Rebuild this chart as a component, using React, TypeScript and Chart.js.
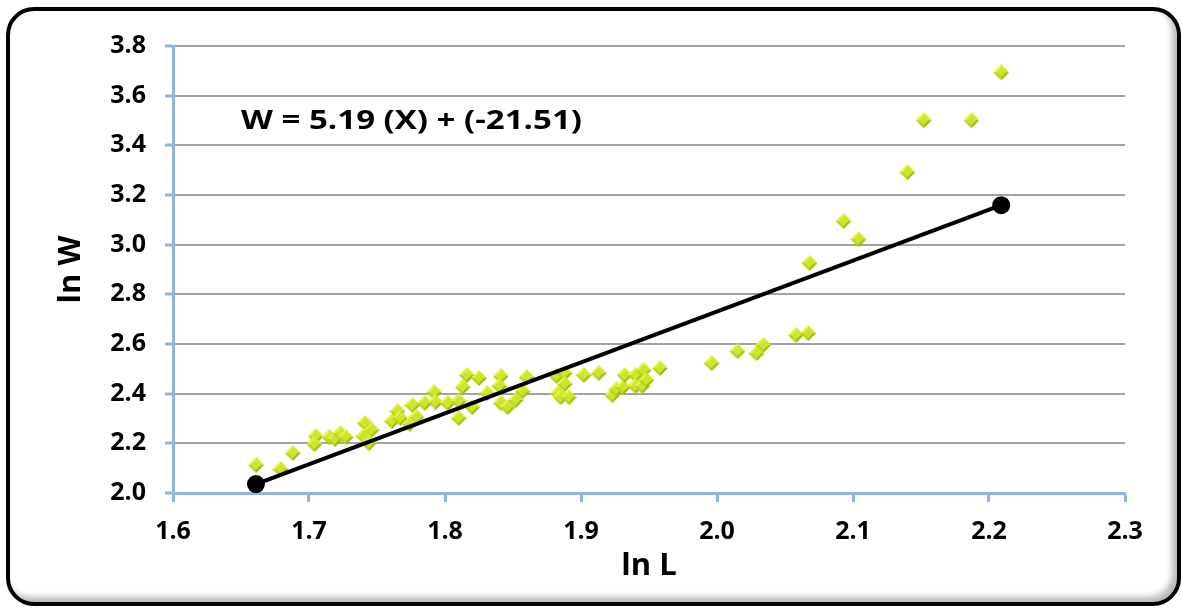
import { useEffect, useRef } from "react";
import { Chart, registerables } from "chart.js";

Chart.register(...registerables);

// Observed length/weight pairs (natural logs)
const lnL: number[] = [
  1.661, 1.679, 1.688, 1.705, 1.704, 1.715, 1.719, 1.723, 1.727, 1.741,
  1.746, 1.740, 1.744, 1.761, 1.765, 1.767, 1.776, 1.779, 1.774, 1.785,
  1.792, 1.793, 1.802, 1.810, 1.810, 1.813, 1.816, 1.825, 1.820, 1.831,
  1.841, 1.840, 1.841, 1.846, 1.852, 1.857, 1.860, 1.882, 1.888, 1.888,
  1.883, 1.885, 1.891, 1.902, 1.913, 1.923, 1.926, 1.931, 1.932, 1.940,
  1.946, 1.940, 1.945, 1.948, 1.958, 1.996, 2.015, 2.029, 2.034, 2.058,
  2.067, 2.068, 2.093, 2.104, 2.140, 2.152, 2.187, 2.209,
];
const lnW: number[] = [
  2.113, 2.097, 2.161, 2.229, 2.197, 2.225, 2.217, 2.241, 2.225, 2.282,
  2.254, 2.229, 2.201, 2.290, 2.330, 2.302, 2.354, 2.306, 2.278, 2.362,
  2.406, 2.366, 2.362, 2.370, 2.302, 2.427, 2.475, 2.463, 2.346, 2.402,
  2.471, 2.431, 2.362, 2.346, 2.374, 2.410, 2.467, 2.471, 2.483, 2.439,
  2.402, 2.386, 2.386, 2.475, 2.483, 2.394, 2.418, 2.427, 2.475, 2.475,
  2.495, 2.431, 2.431, 2.455, 2.503, 2.523, 2.571, 2.563, 2.596, 2.636,
  2.644, 2.926, 3.095, 3.022, 3.292, 3.501, 3.501, 3.694,
];

// Fitted line end points
const fitL: number[] = [1.661, 2.209];
const fitW: number[] = [2.036, 3.159];

// Regression label: text box spans from equationL to equationEndL, baseline at equationW
const equationText = "W = 5.19 (X) + (-21.51)";
const equationL = 1.650;
const equationEndL = 1.9007;
const equationW = 3.464;

const xTitle = "ln L";
const yTitle = "ln W";

const FONT = "'Open Sans', 'DejaVu Sans', sans-serif";
const AXIS_BLUE = "#8db4e2";
const GRID_GREY = "#a3a3a3";

function makeDiamond(): HTMLCanvasElement {
  const s = 16;
  const c = document.createElement("canvas");
  c.width = s;
  c.height = s;
  const g = c.getContext("2d")!;
  const h = s / 2;
  // four shaded facets for a bevelled look
  const facet = (pts: number[][], col: string) => {
    g.beginPath();
    g.moveTo(pts[0][0], pts[0][1]);
    for (let i = 1; i < pts.length; i++) g.lineTo(pts[i][0], pts[i][1]);
    g.closePath();
    g.fillStyle = col;
    g.fill();
  };
  facet([[h, 0], [h, h], [0, h]], "#e6f348");
  facet([[h, 0], [s, h], [h, h]], "#d2e82a");
  facet([[0, h], [h, h], [h, s]], "#b8d41c");
  facet([[h, h], [s, h], [h, s]], "#9cba12");
  g.beginPath();
  g.moveTo(h, 3);
  g.lineTo(s - 3, h);
  g.lineTo(h, s - 3);
  g.lineTo(3, h);
  g.closePath();
  g.fillStyle = "#cde52a";
  g.fill();
  return c;
}

const equationPlugin = {
  id: "equationLabel",
  afterDatasetsDraw(chart: any) {
    const { ctx, scales } = chart;
    const x0 = scales.x.getPixelForValue(equationL);
    const x1 = scales.x.getPixelForValue(equationEndL);
    const y = scales.y.getPixelForValue(equationW);
    ctx.save();
    ctx.font = `bold 26px ${FONT}`;
    ctx.fillStyle = "#000";
    ctx.textAlign = "left";
    ctx.textBaseline = "alphabetic";
    // the label box is stretched horizontally to its full width
    const natural = ctx.measureText(equationText).width;
    const sx = (x1 - x0) / natural;
    ctx.translate(x0, y);
    ctx.scale(sx, 1);
    ctx.fillText(equationText, 0, 0);
    ctx.restore();
  },
};

export default function App() {
  const canvasRef = useRef<HTMLCanvasElement | null>(null);

  useEffect(() => {
    if (!canvasRef.current) return;
    const diamond = makeDiamond();
    const chart = new Chart(canvasRef.current, {
      type: "scatter",
      data: {
        datasets: [
          {
            label: "observed",
            data: lnL.map((l, i) => ({ x: l, y: lnW[i] })),
            pointStyle: diamond as any,
            pointRadius: 8,
            showLine: false,
            order: 2,
          },
          {
            label: "fit",
            data: fitL.map((l, i) => ({ x: l, y: fitW[i] })),
            showLine: true,
            borderColor: "#000",
            borderWidth: 4,
            pointStyle: "circle",
            pointRadius: 7,
            pointBackgroundColor: "#000",
            pointBorderColor: "#000",
            order: 1,
          },
        ],
      },
      options: {
        animation: false,
        responsive: false,
        maintainAspectRatio: false,
        layout: { padding: { left: 10, top: 46, right: 57, bottom: 10 } },
        plugins: {
          legend: { display: false },
          tooltip: { enabled: false },
        },
        scales: {
          x: {
            type: "linear",
            min: 1.6,
            max: 2.3,
            afterFit: (s: any) => {
              s.height = 106;
            },
            ticks: {
              stepSize: 0.1,
              callback: (v: any) => Number(v).toFixed(1),
              color: "#000",
              font: { family: FONT, weight: "bold", size: 25 },
              padding: 15,
            },
            grid: {
              drawOnChartArea: false,
              drawTicks: true,
              tickLength: 9,
              tickWidth: 3,
              tickColor: AXIS_BLUE,
            },
            border: { color: AXIS_BLUE, width: 3 },
            title: {
              display: true,
              text: xTitle,
              color: "#000",
              font: { family: FONT, weight: "bold", size: 31 },
              padding: { top: 0, bottom: 14 },
            },
          },
          y: {
            type: "linear",
            min: 2.0,
            max: 3.8,
            afterFit: (s: any) => {
              s.width = 163;
            },
            ticks: {
              stepSize: 0.2,
              callback: (v: any) => Number(v).toFixed(1),
              color: "#000",
              font: { family: FONT, weight: "bold", size: 25 },
              padding: 19,
            },
            grid: {
              color: GRID_GREY,
              lineWidth: 2,
              tickLength: 8,
              tickWidth: 3,
              tickColor: AXIS_BLUE,
            },
            border: { color: AXIS_BLUE, width: 3 },
            title: {
              display: true,
              text: yTitle,
              color: "#000",
              font: { family: FONT, weight: "bold", size: 31 },
              padding: { top: 43, bottom: 0 },
            },
          },
        },
      },
      plugins: [equationPlugin],
    });
    return () => chart.destroy();
  }, []);

  return (
    <div style={{ position: "fixed", left: 0, top: 0, width: 1182, height: 609, background: "#fff" }}>
      <div
        style={{
          position: "absolute",
          left: 6,
          top: 7,
          width: 1175,
          height: 599,
          boxSizing: "border-box",
          border: "4px solid #000",
          borderRadius: 28,
          background: "#fff",
          boxShadow: "inset -5px -5px 6px rgba(0,0,0,0.28)",
        }}
      />
      <canvas
        ref={canvasRef}
        width={1182}
        height={609}
        style={{ position: "absolute", left: 0, top: 0, width: 1182, height: 609 }}
      />
    </div>
  );
}
